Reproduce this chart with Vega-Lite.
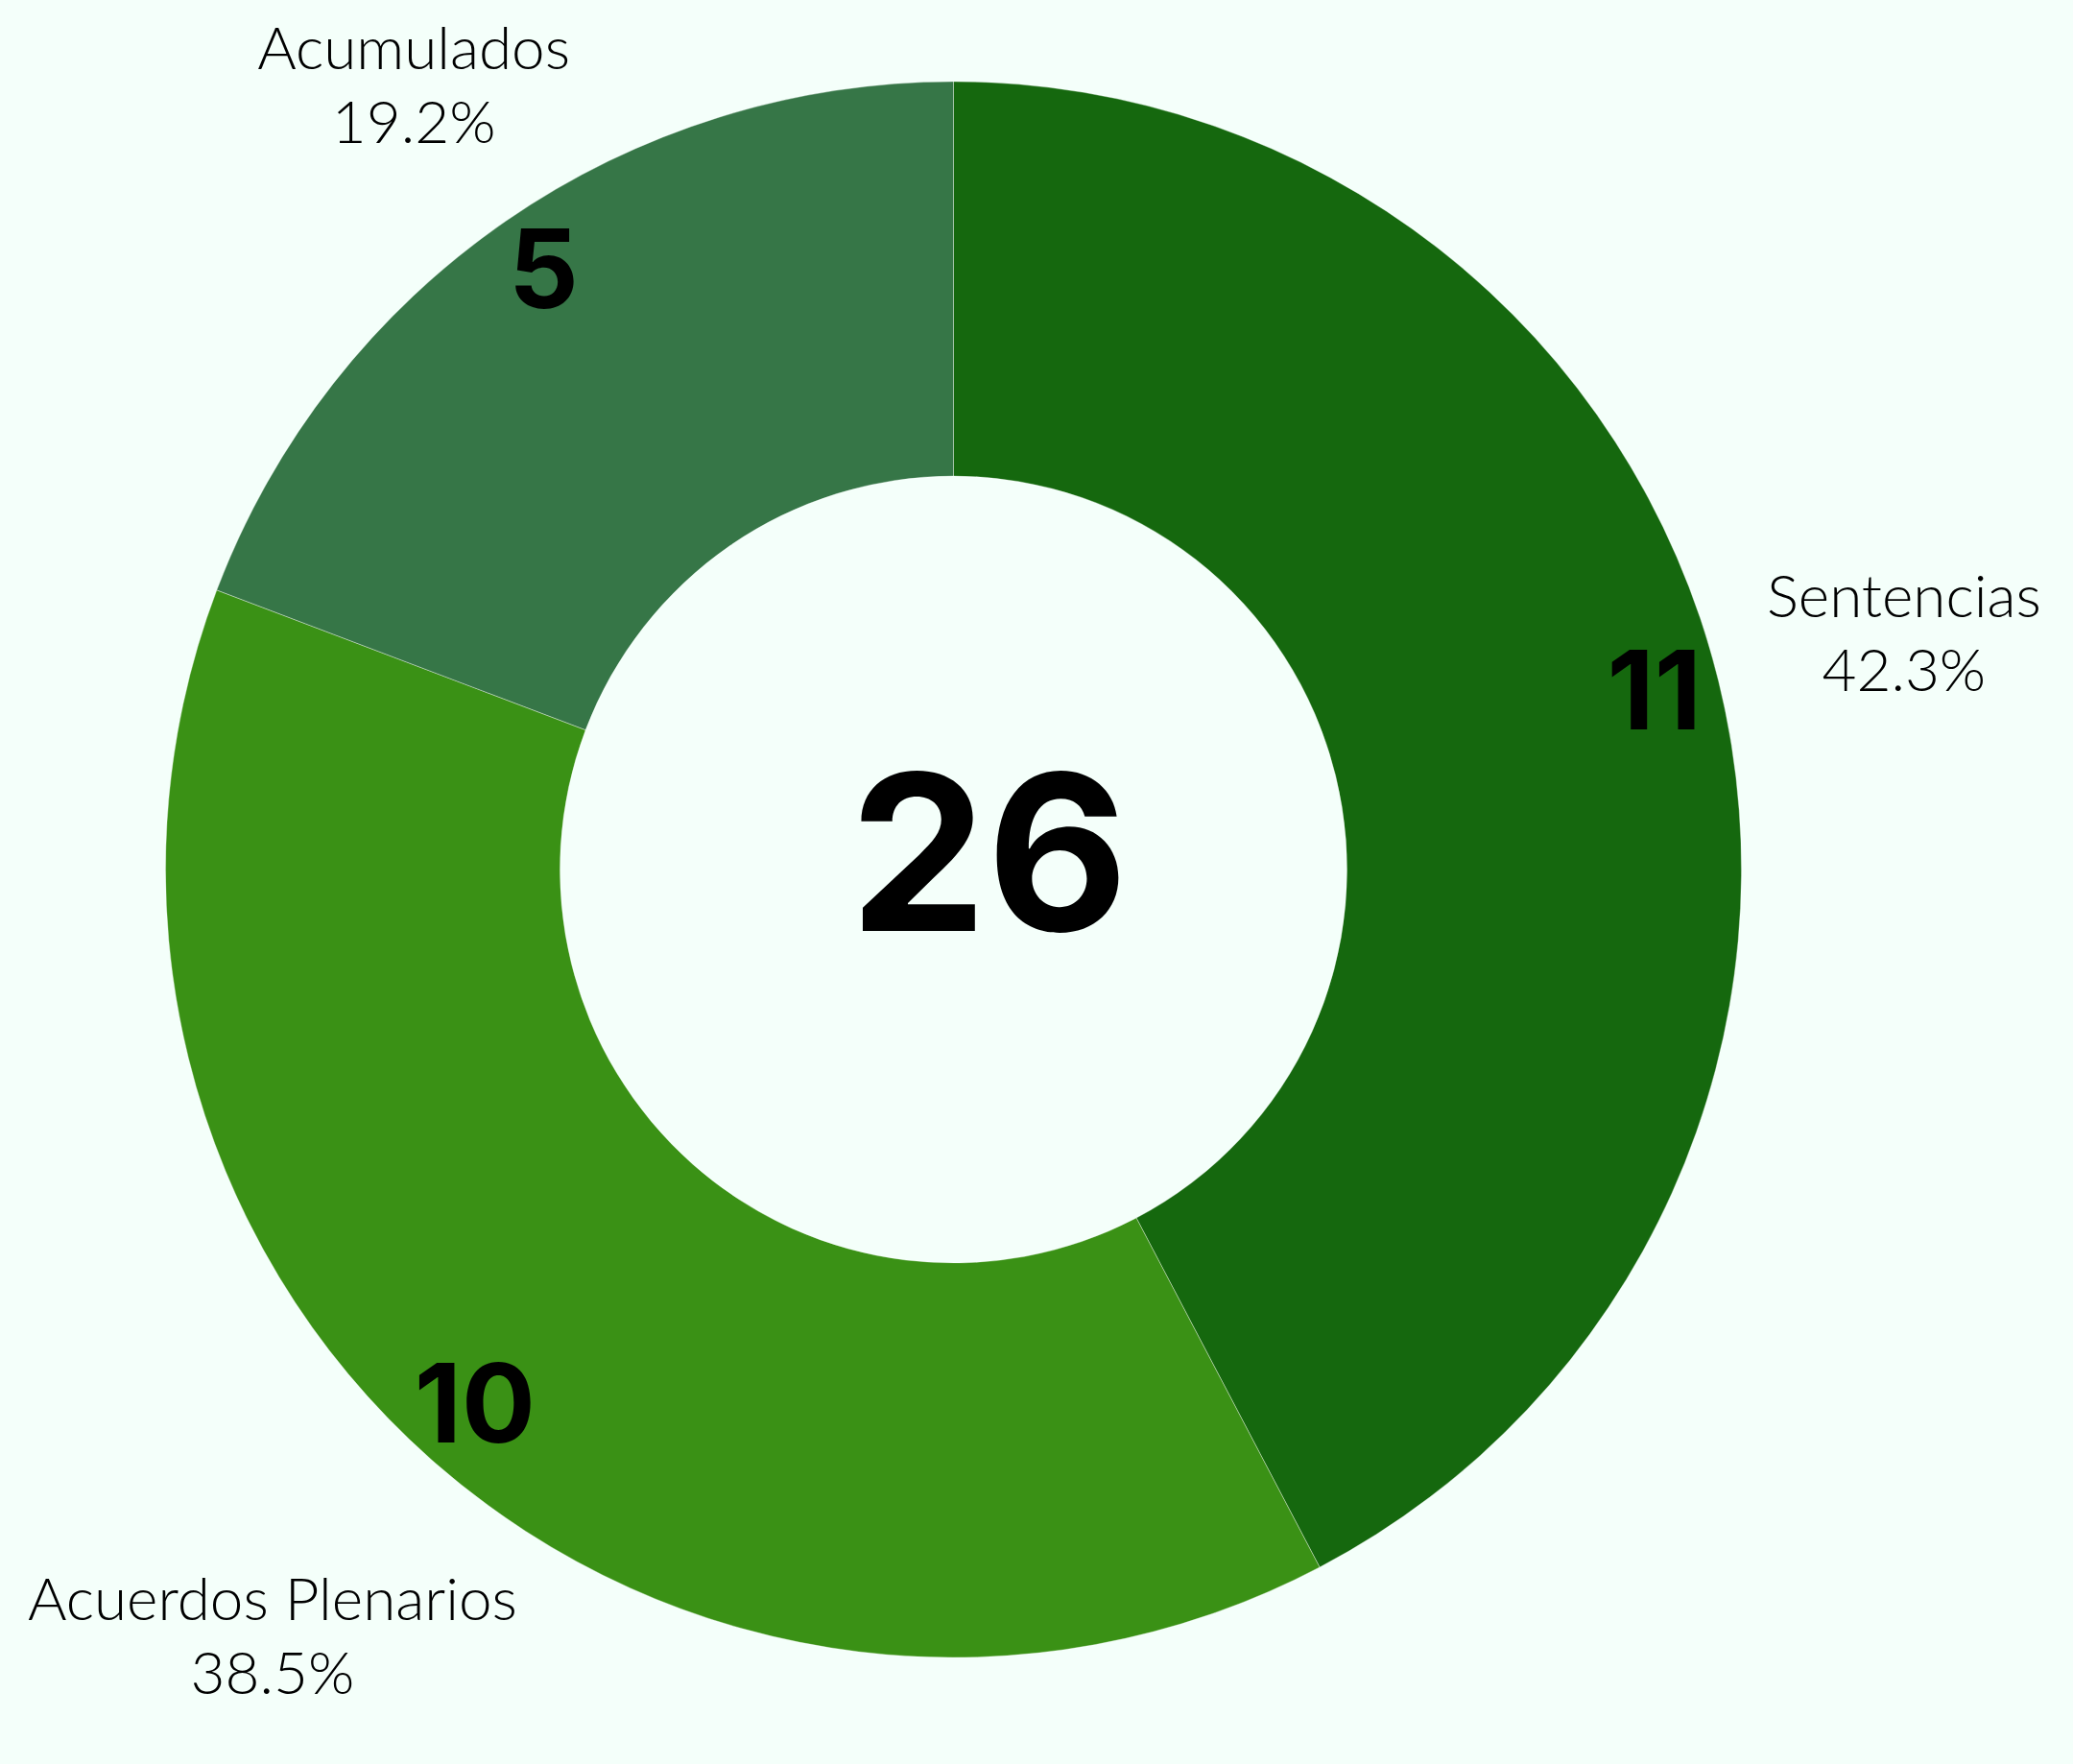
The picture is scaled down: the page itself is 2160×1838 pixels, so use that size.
{
  "$schema": "https://vega.github.io/schema/vega-lite/v6.json",
  "width": 1987,
  "height": 1812,
  "autosize": {"type": "none"},
  "padding": {"left": 0, "top": 0, "right": 173, "bottom": 26},
  "background": "#f4fffa",
  "config": {"view": {"stroke": null}},
  "layer": [
    {
      "data": {"name": "d", "values": [
        {"categoria": "Sentencias", "n": 11, "orden": 1, "etiqueta": "Sentencias\n42.3%"},
        {"categoria": "Acuerdos Plenarios", "n": 10, "orden": 2, "etiqueta": "Acuerdos Plenarios\n38.5%"},
        {"categoria": "Acumulados", "n": 5, "orden": 3, "etiqueta": "Acumulados\n19.2%"}
      ]},
      "encoding": {
        "theta": {"field": "n", "type": "quantitative", "stack": true},
        "order": {"field": "orden", "type": "quantitative"},
        "detail": {"field": "categoria", "type": "nominal"}
      },
      "layer": [
        {
          "mark": {"type": "arc", "outerRadius": 821, "innerRadius": 410, "stroke": "#ffffff", "strokeWidth": 1, "strokeOpacity": 0.35},
          "encoding": {
            "color": {"field": "categoria", "type": "nominal", "legend": null,
              "sort": ["Sentencias", "Acuerdos Plenarios", "Acumulados"],
              "scale": {"domain": ["Sentencias", "Acuerdos Plenarios", "Acumulados"], "range": ["#15680e", "#3a9115", "#367647"]}}
          }
        },
        {
          "mark": {"type": "text", "radius": 752, "font": "Inter", "fontWeight": "bold", "fontSize": 114, "align": "center", "baseline": "middle", "color": "#000000"},
          "encoding": {
            "text": {"field": "n", "type": "quantitative"}
          }
        },
        {
          "mark": {"type": "text", "radius": 1020, "dy": -38, "font": "Lato", "fontWeight": 300, "fontSize": 62, "lineHeight": 77, "lineBreak": "\n", "align": "center", "baseline": "middle", "color": "#000000"},
          "encoding": {"text": {"condition": {"test": "datum.categoria === 'Sentencias'", "field": "etiqueta", "type": "nominal"}, "value": ""}}
        },
        {
          "mark": {"type": "text", "radius": 1070, "dy": -38, "font": "Lato", "fontWeight": 300, "fontSize": 62, "lineHeight": 77, "lineBreak": "\n", "align": "center", "baseline": "middle", "color": "#000000"},
          "encoding": {"text": {"condition": {"test": "datum.categoria === 'Acuerdos Plenarios'", "field": "etiqueta", "type": "nominal"}, "value": ""}}
        },
        {
          "mark": {"type": "text", "radius": 990, "dy": -38, "font": "Lato", "fontWeight": 300, "fontSize": 62, "lineHeight": 77, "lineBreak": "\n", "align": "center", "baseline": "middle", "color": "#000000"},
          "encoding": {"text": {"condition": {"test": "datum.categoria === 'Acumulados'", "field": "etiqueta", "type": "nominal"}, "value": ""}}
        }
      ]
    },
    {
      "data": {"values": [{"total": 26}]},
      "mark": {"type": "text", "font": "Inter", "fontWeight": "bold", "fontSize": 227, "align": "center", "baseline": "middle", "dx": 37, "dy": -4, "color": "#000000"},
      "encoding": {"text": {"field": "total", "type": "quantitative"}}
    }
  ]
}
